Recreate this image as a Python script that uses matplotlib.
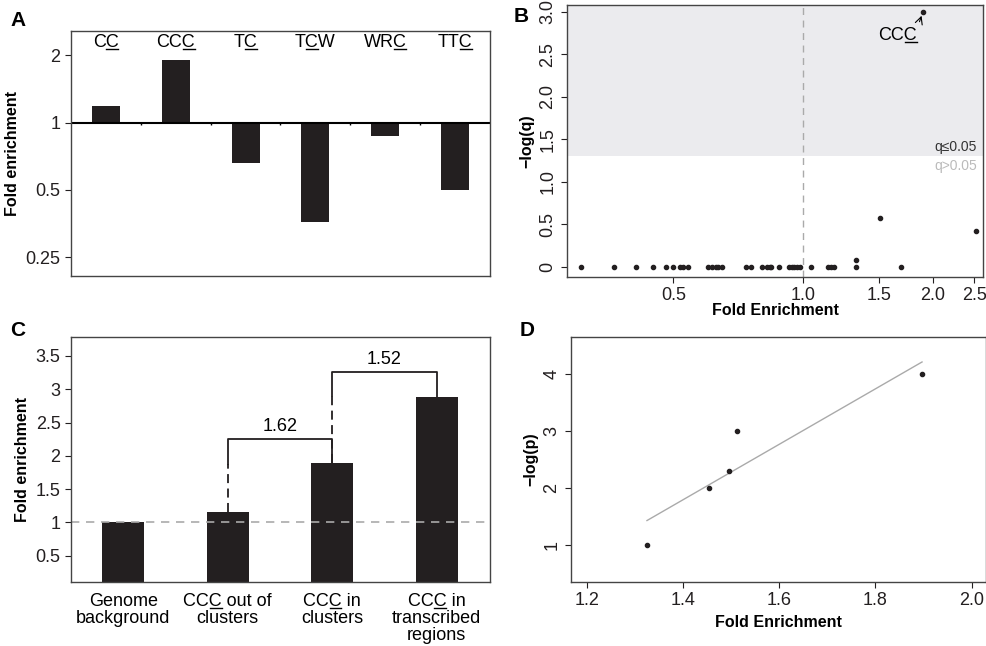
import numpy as np
import matplotlib
matplotlib.use("Agg")
import matplotlib.pyplot as plt
from matplotlib.lines import Line2D

plt.rcParams['font.family'] = ['Liberation Sans', 'DejaVu Sans']

# Panel A: motif fold enrichment
motif_pre = ["C", "CC", "T", "T", "WR", "TT"]
motif_suf = ["", "", "", "W", "", ""]
motif_fe = [1.19, 1.9, 0.66, 0.36, 0.87, 0.5]

# Panel B: volcano-like scatter
b_fe = [0.305, 0.363, 0.41, 0.449, 0.48, 0.5, 0.518, 0.525, 0.542, 0.602, 0.616,
        0.627, 0.636, 0.65, 0.737, 0.759, 0.803, 0.824, 0.837, 0.843, 0.878, 0.928,
        0.941, 0.953, 0.967, 0.982, 1.044, 1.145, 1.16, 1.18, 1.325, 1.33, 1.51,
        1.69, 2.53, 1.9]
b_q = [0] * 30 + [0.0, 0.08, 0.58, 0.0, 0.42, 3.0]
q_cut = 1.3

# Panel C
c_labels = [("Genome", "background"), ("CCC out of", "clusters"),
            ("CCC in", "clusters"), ("CCC in", "transcribed\nregions")]
c_fe = [1.0, 1.155, 1.89, 2.88]
c_ratio = ["1.62", "1.52"]

# Panel D
d_fe = [1.325, 1.455, 1.495, 1.513, 1.897]
d_p = [1, 2, 2.3, 3, 4]

W, H = 987, 646
fig = plt.figure(figsize=(W / 100, H / 100), dpi=100)


def axes_px(l, t, r, b):
    return fig.add_axes([l / W, 1 - b / H, (r - l) / W, (b - t) / H])


underlines = []  # (text object, prefix, char)
FS = 13
LFS = 11.5

# ---------- A ----------
axA = axes_px(71, 31, 490, 276)
axA.set_yscale('log', base=2)
xA = np.arange(len(motif_fe))
axA.bar(xA, np.array(motif_fe) - 1, bottom=1, width=0.4, color='#231f20')
axA.axhline(1, color='black', lw=1.5)
axA.vlines(np.arange(len(motif_fe) - 1) + 0.5, 0.97, 1.0, color='black', lw=1)
axA.set_ylim(2 ** -2.28, 2 ** 1.36)
axA.set_xlim(-0.5, len(motif_fe) - 0.5)
axA.set_yticks([0.25, 0.5, 1, 2])
axA.set_yticklabels(["0.25", "0.5", "1", "2"])
axA.minorticks_off()
axA.set_xticks([])
axA.set_ylabel("Fold enrichment", fontweight='bold', fontsize=LFS)
for i, (p, s) in enumerate(zip(motif_pre, motif_suf)):
    t = axA.text(i, 2.28, p + "C" + s, ha='center', va='center', fontsize=FS)
    underlines.append((t, p, "C"))

# ---------- B ----------
axB = axes_px(567, 5, 983, 277)
axB.set_xscale('log')
axB.axhspan(q_cut, 10, color='#ebebee', lw=0)
axB.axvline(1.0, color='#aaaaaa', ls=(0, (5, 4)), lw=1)
axB.scatter(b_fe, b_q, s=9, color='#231f20', zorder=3)
axB.set_xlim(0.283, 2.62)
axB.set_ylim(-0.12, 3.08)
axB.set_xticks([0.5, 1.0, 1.5, 2.0, 2.5])
axB.set_xticklabels(["0.5", "1.0", "1.5", "2.0", "2.5"])
axB.minorticks_off()
axB.set_yticks(np.arange(0, 3.01, 0.5))
axB.set_yticklabels(["0", "0.5", "1.0", "1.5", "2.0", "2.5", "3.0"], rotation=90, va='center')
axB.set_xlabel("Fold Enrichment", fontweight='bold', fontsize=LFS, labelpad=-1)
axB.set_ylabel("\u2212log(q)", fontweight='bold', fontsize=LFS)
axB.text(0.985, q_cut + 0.03, "q\u22640.05", transform=axB.get_yaxis_transform(),
         ha='right', va='bottom', fontsize=10, color='#333333')
axB.text(0.985, q_cut - 0.03, "q>0.05", transform=axB.get_yaxis_transform(),
         ha='right', va='top', fontsize=10, color='#bbbbbb')
t = axB.annotate("CCC", xy=(1.9, 3.0), xytext=(1.66, 2.72), ha='center', va='center',
                 fontsize=FS, arrowprops=dict(arrowstyle='->', lw=0.8, color='black',
                                              shrinkA=2, shrinkB=3,
                                              relpos=(1.0, 0.9)))
underlines.append((t, "CC", "C"))

# ---------- C ----------
axC = axes_px(71, 337, 490, 582)
xC = np.arange(len(c_fe))
axC.bar(xC, c_fe, width=0.4, color='#231f20')
axC.axhline(1, color='#aaaaaa', ls=(0, (5, 4)), lw=1.2)
axC.set_xlim(-0.5, 3.51)
axC.set_ylim(0.105, 3.785)
axC.set_yticks([0.5, 1, 1.5, 2, 2.5, 3, 3.5])
axC.set_yticklabels(["0.5", "1", "1.5", "2", "2.5", "3", "3.5"])
axC.set_xticks([])
axC.set_ylabel("Fold enrichment", fontweight='bold', fontsize=LFS)
brackets = [(1, 2, 2.26, 1.88), (2, 3, 3.255, 2.9)]
for (i, j, yb, ydash), lab in zip(brackets, c_ratio):
    axC.plot([i, i], [c_fe[i], ydash], color='#231f20', lw=1.3, ls=(0, (5, 3)))
    axC.plot([i, i, j, j], [ydash, yb, yb, c_fe[j]], color='#231f20', lw=1.3)
    axC.text((i + j) / 2, yb + 0.06, lab, ha='center', va='bottom', fontsize=FS)
ttr = axC.get_xaxis_transform()
for i, (l1, rest) in enumerate(c_labels):
    t = axC.text(i, -0.045, l1, transform=ttr, ha='center', va='top', fontsize=FS)
    axC.text(i, -0.115, rest, transform=ttr, ha='center', va='top', fontsize=FS,
             linespacing=0.95)
    if l1.startswith("CCC"):
        underlines.append((t, "CC", "C"))

# ---------- D ----------
axD = axes_px(571, 337, 986, 582)
axD.scatter(d_fe, d_p, s=9, color='#231f20', zorder=3)
k, c0 = np.polyfit(d_fe, d_p, 1)
xs = np.array([min(d_fe), max(d_fe)])
axD.plot(xs, k * xs + c0, color='#aaaaaa', lw=1)
axD.set_xlim(1.167, 2.03)
axD.set_ylim(0.345, 4.655)
axD.set_xticks([1.2, 1.4, 1.6, 1.8, 2.0])
axD.set_xticklabels(["1.2", "1.4", "1.6", "1.8", "2.0"])
axD.set_yticks([1, 2, 3, 4])
axD.set_yticklabels(["1", "2", "3", "4"], rotation=90, va='center')
axD.set_xlabel("Fold Enrichment", fontweight='bold', fontsize=LFS)
axD.set_ylabel("\u2212log(p)", fontweight='bold', fontsize=LFS)

for ax in (axA, axB, axC, axD):
    ax.tick_params(labelsize=FS, length=4, width=0.8, colors='#231f20')
    for s in ax.spines.values():
        s.set_linewidth(1)
        s.set_color('#444444')

for lbl, x, y in [("A", 10, 20), ("B", 514, 16), ("C", 10, 330), ("D", 520, 330)]:
    fig.text(x / W, 1 - y / H, lbl, fontweight='bold', fontsize=15, va='center')

# underlines beneath the mutated C
fig.canvas.draw()
r = fig.canvas.get_renderer()


def width(s, t):
    tmp = fig.text(0, 0, s, fontsize=t.get_fontsize(), fontfamily=t.get_fontfamily())
    w = tmp.get_window_extent(r).width
    tmp.remove()
    return w


for t, pre, ch in underlines:
    bb = t.get_window_extent(r)
    x0 = bb.x0 + width(pre, t) + 0.5
    x1 = bb.x0 + width(pre + ch, t) - 0.5
    y = bb.y0 + 2
    fig.add_artist(Line2D([x0 / W, x1 / W], [y / H, y / H], transform=fig.transFigure,
                          color='black', lw=1))

fig.savefig("out.png", dpi=100)
